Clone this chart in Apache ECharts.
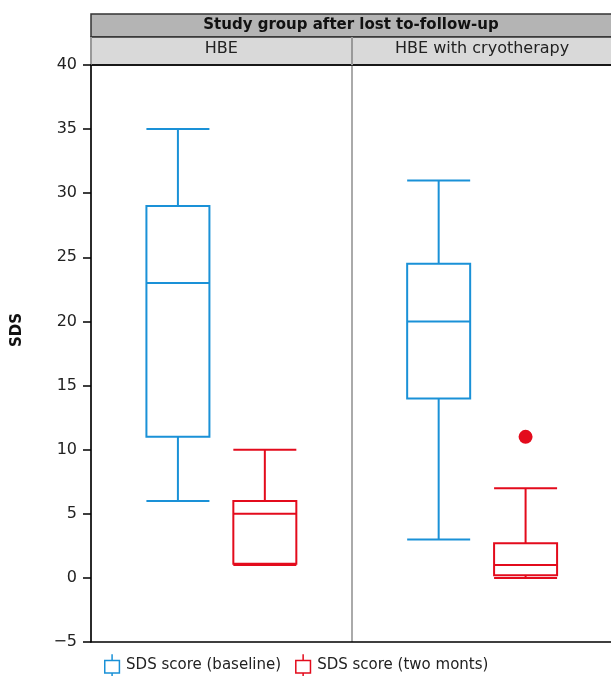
<!DOCTYPE html>
<html>
<head>
<meta charset="utf-8">
<script src="https://cdn.jsdelivr.net/npm/echarts@6/dist/echarts.min.js"></script>
<style>html,body{margin:0;padding:0;background:#fff;}#c{width:611px;height:676px;}</style>
</head>
<body>
<div id="c"></div>
<script>
const categories = ['HBE', 'HBE with cryotherapy'];
const seriesNames = ['SDS score (baseline)', 'SDS score (two monts)'];
// [min, Q1, median, Q3, max]
const baselineStats = [
  [6, 11, 23, 29, 35],
  [3, 14, 20, 24.5, 31]
];
const twoMonthsStats = [
  [1, 1.1, 5, 6, 10],
  [0, 0.2, 1, 2.7, 7]
];
// outliers: [categoryIndex, value]
const twoMonthsOutliers = [[1, 11]];
const yTicks = { min: -5, max: 40, interval: 5 };
const headerTitle = 'Study group after lost to-follow-up';
const yName = 'SDS';

const BLUE = '#1a91d7';
const RED = '#e30b1c';
const FONT = 'DejaVu Sans';
const slots = 3; // slots per category panel
const pos = (ci, si) => ci * slots + 1 + si;

const chart = echarts.init(document.getElementById('c'));
const hiddenX = (idx) => ({
  type: 'value', min: 0, max: categories.length * slots, gridIndex: 0,
  position: 'bottom', z: 6,
  axisLine: { show: idx === 1, onZero: false, lineStyle: { color: '#000', width: 1.5 } },
  axisTick: { show: false }, axisLabel: { show: false }, splitLine: { show: false }
});
chart.setOption({
  animation: false,
  grid: { left: 91, right: -1.5, top: 65, bottom: 34, outerBoundsMode: 'none', containLabel: false },
  graphic: [
    { type: 'rect', z: -10, shape: { x: 91, y: 14, width: 530, height: 23 },
      style: { fill: '#b4b4b4', stroke: '#333', lineWidth: 1.5 } },
    { type: 'rect', z: -10, shape: { x: 91, y: 37, width: 530, height: 28 },
      style: { fill: '#d9d9d9', stroke: '#333', lineWidth: 1.5 } },
    { type: 'text', z: 10, x: 351, y: 25,
      style: { text: headerTitle, fill: '#111', font: 'bold 15px ' + FONT, textAlign: 'center', textVerticalAlign: 'middle' } },
    { type: 'text', z: 10, x: 17, y: 330, rotation: Math.PI / 2,
      style: { text: yName, fill: '#111', font: 'bold 15px ' + FONT, textAlign: 'center', textVerticalAlign: 'middle' } }
  ],
  legend: {
    bottom: -6, left: 99, itemWidth: 18, itemHeight: 22, itemGap: 14,
    icon: 'path://M3,6H17V18H3Z M10,0V6 M10,18V21',
    itemStyle: { color: 'rgba(0,0,0,0)', borderWidth: 1.5 },
    textStyle: { fontFamily: FONT, fontSize: 15, color: '#222' },
    data: seriesNames
  },
  xAxis: [
    {
      type: 'category', data: categories, position: 'top', gridIndex: 0, z: 5,
      axisLine: { show: true, onZero: false, lineStyle: { color: '#000', width: 1.5 } },
      axisTick: { show: true, inside: false, length: 28, lineStyle: { color: '#999', width: 2 } },
      axisLabel: { fontFamily: FONT, fontSize: 16, color: '#222', margin: 8 },
      splitLine: { show: true, lineStyle: { color: '#aaa', width: 2 } }
    },
    hiddenX(1),
    hiddenX(2)
  ],
  yAxis: {
    type: 'value', min: yTicks.min, max: yTicks.max, interval: yTicks.interval, z: 7,
    axisLine: { show: true, onZero: false, lineStyle: { color: '#000', width: 1.5 } },
    axisTick: { show: true, length: 8, lineStyle: { color: '#000', width: 1.5 } },
    axisLabel: { fontFamily: FONT, fontSize: 16, color: '#222', margin: 14,
      formatter: v => (v < 0 ? '\u2212' + Math.abs(v) : String(v)) },
    splitLine: { show: false }
  },
  series: [
    {
      name: seriesNames[0], type: 'boxplot', xAxisIndex: 1, boxWidth: [63, 63],
      itemStyle: { color: 'rgba(0,0,0,0)', borderColor: BLUE, borderWidth: 2 },
      data: baselineStats.map((s, i) => [pos(i, 0)].concat(s))
    },
    {
      name: seriesNames[1], type: 'boxplot', xAxisIndex: 2, boxWidth: [63, 63],
      itemStyle: { color: 'rgba(0,0,0,0)', borderColor: RED, borderWidth: 2 },
      data: twoMonthsStats.map((s, i) => [pos(i, 1)].concat(s))
    },
    {
      name: seriesNames[1], type: 'scatter', xAxisIndex: 2, symbolSize: 14,
      itemStyle: { color: RED, opacity: 1 },
      data: twoMonthsOutliers.map(o => [pos(o[0], 1), o[1]])
    }
  ]
});
</script>
</body>
</html>
